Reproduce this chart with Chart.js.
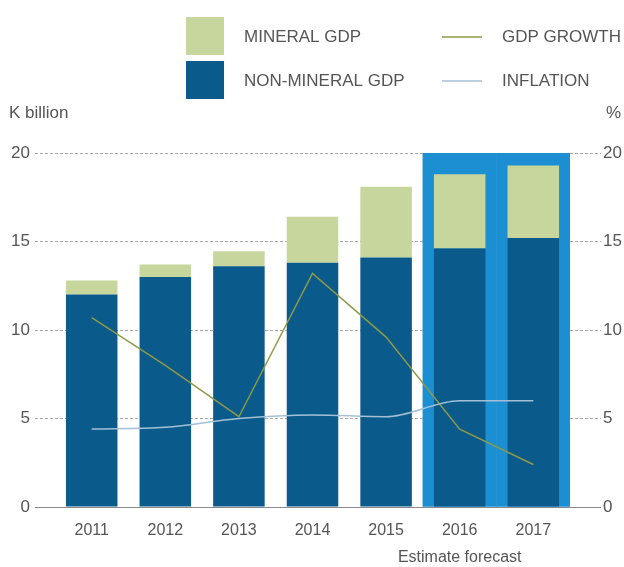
<!DOCTYPE html>
<html>
<head>
<meta charset="utf-8">
<script src="https://cdn.jsdelivr.net/npm/chart.js@4/dist/chart.umd.min.js"></script>
<style>
  html, body { margin: 0; padding: 0; background: #ffffff; }
  #wrap { width: 624px; height: 567px; position: relative; }
</style>
</head>
<body>
<div id="wrap"><canvas id="c" width="624" height="567"></canvas></div>
<script>
// ---- Data ----
const years = ['2011', '2012', '2013', '2014', '2015', '2016', '2017'];
const forecastNote = 'Estimate forecast';
const nonMineralGdp = [12.0, 13.0, 13.6, 13.8, 14.1, 14.6, 15.2];   // K billion
const mineralGdp    = [0.8, 0.7, 0.85, 2.6, 4.0, 4.2, 4.1];          // K billion (stacked on top)
const gdpGrowth     = [10.7, 8.0, 5.1, 13.2, 9.6, 4.4, 2.4];          // %
const inflation     = [4.4, 4.5, 5.0, 5.2, 5.1, 6.0, 6.0];            // %
const forecastBand  = [null, null, null, null, null, 20, 20];         // highlight for estimate/forecast years
const yTicks = [0, 5, 10, 15, 20];
const leftAxisTitle = 'K billion';
const rightAxisTitle = '%';
const seriesNames = { mineral: 'MINERAL GDP', nonMineral: 'NON-MINERAL GDP', growth: 'GDP GROWTH', inflation: 'INFLATION' };

// ---- Styles ----
const C_MINERAL = '#c6d69c';
const C_NONMIN = '#0b5a8c';
const C_BAND = '#1c8fd3';
const C_GROWTH = '#8d9a48';
const C_INFL = '#a3c0d6';
const C_TEXT = '#555555';
const C_GRID = '#a8a8a8';
const FONT = '"Liberation Sans", Arial, sans-serif';
const LEFT_TICK_LEN = 20;
const RIGHT_TICK_LEN = 31;

const labels = years.map(y => y === '2016' ? [y, forecastNote] : y);

const extrasPlugin = {
  id: 'extras',
  beforeDatasetsDraw(chart) {
    // solid zero baseline spanning axis tick areas
    const ctx = chart.ctx;
    const y = chart.scales.y;
    const area = chart.chartArea;
    const py = Math.round(y.getPixelForValue(0)) + 0.5;
    ctx.save();
    ctx.strokeStyle = '#8a8a8a';
    ctx.lineWidth = 1;
    ctx.beginPath();
    ctx.moveTo(area.left - LEFT_TICK_LEN, py);
    ctx.lineTo(area.right + RIGHT_TICK_LEN, py);
    ctx.stroke();
    ctx.restore();
  },
  afterDraw(chart) {
    const ctx = chart.ctx;
    ctx.save();
    ctx.fillStyle = C_TEXT;
    ctx.font = '17px ' + FONT;
    ctx.textBaseline = 'middle';
    // axis titles
    ctx.textAlign = 'left';
    ctx.fillText(leftAxisTitle, 9, 113);
    ctx.textAlign = 'right';
    ctx.fillText(rightAxisTitle, 621, 113);
    // legend (2 x 2 grid)
    const ds = chart.data.datasets;
    const items = [
      { d: ds[1], type: 'box', x: 186, y: 17 },
      { d: ds[0], type: 'box', x: 186, y: 61 },
      { d: ds[3], type: 'line', x: 442, y: 37 },
      { d: ds[4], type: 'line', x: 442, y: 81 }
    ];
    ctx.textAlign = 'left';
    for (const it of items) {
      if (it.type === 'box') {
        ctx.fillStyle = it.d.backgroundColor;
        ctx.fillRect(it.x, it.y, 38, 38);
        ctx.fillStyle = C_TEXT;
        ctx.fillText(it.d.label, it.x + 58, it.y + 20);
      } else {
        ctx.strokeStyle = it.d.borderColor;
        ctx.lineWidth = 1.5;
        ctx.beginPath();
        ctx.moveTo(it.x, it.y);
        ctx.lineTo(it.x + 40, it.y);
        ctx.stroke();
        ctx.fillStyle = C_TEXT;
        ctx.fillText(it.d.label, it.x + 60, it.y);
      }
    }
    ctx.restore();
  }
};

new Chart(document.getElementById('c'), {
  data: {
    labels: labels,
    datasets: [
      {
        type: 'bar', label: seriesNames.nonMineral, data: nonMineralGdp,
        backgroundColor: C_NONMIN, stack: 'gdp', yAxisID: 'y', order: 2,
        barPercentage: 0.7, categoryPercentage: 1.0
      },
      {
        type: 'bar', label: seriesNames.mineral, data: mineralGdp,
        backgroundColor: C_MINERAL, stack: 'gdp', yAxisID: 'y', order: 2,
        barPercentage: 0.7, categoryPercentage: 1.0
      },
      {
        type: 'bar', label: 'forecast', data: forecastBand,
        backgroundColor: C_BAND, stack: 'band', grouped: false, yAxisID: 'y', order: 5,
        barPercentage: 1.0, categoryPercentage: 1.0
      },
      {
        type: 'line', label: seriesNames.growth, data: gdpGrowth,
        borderColor: C_GROWTH, borderWidth: 1.5, pointRadius: 0, tension: 0,
        yAxisID: 'y1', order: 1
      },
      {
        type: 'line', label: seriesNames.inflation, data: inflation,
        borderColor: C_INFL, borderWidth: 1.5, pointRadius: 0, cubicInterpolationMode: 'monotone',
        yAxisID: 'y1', order: 0
      }
    ]
  },
  options: {
    responsive: false,
    animation: false,
    devicePixelRatio: 1,
    layout: { padding: { top: 153, left: 6, right: 0, bottom: 0 } },
    plugins: { legend: { display: false }, tooltip: { enabled: false } },
    scales: {
      x: {
        stacked: true,
        grid: { display: false, drawTicks: false, tickLength: 0 },
        border: { display: false },
        afterFit: (s) => { s.height = 60; },
        ticks: {
          color: C_TEXT, font: { family: FONT, size: 16, lineHeight: 1.7 },
          maxRotation: 0, minRotation: 0, autoSkip: false, padding: 10
        }
      },
      y: {
        position: 'left', stacked: true, min: 0, max: 20,
        afterBuildTicks: (s) => { s.ticks = yTicks.map(v => ({ value: v })); },
        grid: {
          color: (c) => c.tick && c.tick.value === 0 ? 'rgba(0,0,0,0)' : C_GRID,
          lineWidth: 1, drawTicks: true, tickLength: LEFT_TICK_LEN,
          tickColor: (c) => c.tick && c.tick.value === 0 ? 'rgba(0,0,0,0)' : C_GRID,
          tickBorderDash: [3, 2]
        },
        border: { display: false, dash: [3, 2] },
        ticks: { color: C_TEXT, font: { family: FONT, size: 17 }, padding: 5 }
      },
      y1: {
        position: 'right', stacked: false, min: 0, max: 20,
        afterBuildTicks: (s) => { s.ticks = yTicks.map(v => ({ value: v })); },
        grid: {
          drawOnChartArea: false, drawTicks: true, tickLength: RIGHT_TICK_LEN,
          tickColor: (c) => c.tick && c.tick.value === 0 ? 'rgba(0,0,0,0)' : C_GRID,
          tickBorderDash: [3, 2]
        },
        border: { display: false },
        ticks: { color: C_TEXT, font: { family: FONT, size: 17 }, padding: 2 }
      }
    }
  },
  plugins: [extrasPlugin]
});
</script>
</body>
</html>
